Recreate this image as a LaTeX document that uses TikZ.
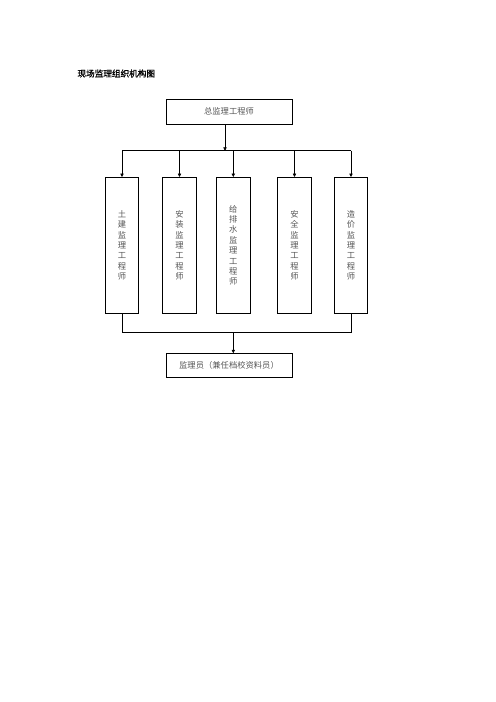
\documentclass[tikz,border=0pt]{standalone}
\usepackage{fontspec}
\usepackage{xcolor}
\usepackage{tikz}
\usetikzlibrary{arrows.meta,positioning,calc}
\newfontfamily\cjk{Noto Sans CJK SC}
\newfontfamily\cjkbold{Noto Sans CJK SC}[FakeBold=1.2]
\definecolor{lblgray}{HTML}{555555}

\begin{document}
\begin{tikzpicture}[
  x=0.4234mm, y=-0.4234mm,
  blk/.style={
    draw=black, line width=0.7pt, inner sep=0pt,
    align=center, text=lblgray,
    font=\cjk\fontsize{10pt}{12.5pt}\selectfont
  },
  wide/.style={blk, minimum width=53.4mm, minimum height=10.4mm},
  tall/.style={blk, minimum width=14.2mm, minimum height=57.6mm},
  arr/.style={-{Triangle[length=4pt,width=4pt]}, line width=0.7pt},
  ln/.style={line width=0.7pt}
]
  \useasboundingbox (0,0) rectangle (496,702);

  % Title
  \node[anchor=west, font=\cjkbold\fontsize{10.4pt}{12pt}\selectfont] (title) at (74.5,73.5) {现场监理组织机构图};

  % Top: chief engineer
  \node[wide] (gm) at (229, 111.8) {总监理工程师};

  % Middle row: five specialist engineers
  \node[tall] (b1) at (122,   245.3) {土\\建\\监\\理\\工\\程\\师};
  \node[tall] (b2) at (179.5, 245.3) {安\\装\\监\\理\\工\\程\\师};
  \node[tall] (b3) at (233.3, 245.3) {给\\排\\水\\监\\理\\工\\程\\师};
  \node[tall] (b4) at (294.5, 245.3) {安\\全\\监\\理\\工\\程\\师};
  \node[tall] (b5) at (351,   245.3) {造\\价\\监\\理\\工\\程\\师};

  % Bottom: inspector
  \node[wide, minimum height=10mm] (staff) at (229, 365.3) {监理员（兼任档校资料员）};

  \coordinate (busT) at (0, 150.7);
  \coordinate (busB) at (0, 332.7);

  \draw[arr] (gm.south) ++(-4,0) -- ++(0,26.4);
  \draw[ln] (b1.north |- busT) -- (b5.north |- busT);
  \foreach \n in {b1,b2,b3,b4,b5}
    \draw[arr] (\n.north |- busT) -- (\n.north);

  \draw[ln] (b1.south) -- (b1.south |- busB) -- (b5.south |- busB) -- (b5.south);
  \draw[arr] (b3.south |- busB) -- (b3.south |- staff.north);
\end{tikzpicture}
\end{document}
